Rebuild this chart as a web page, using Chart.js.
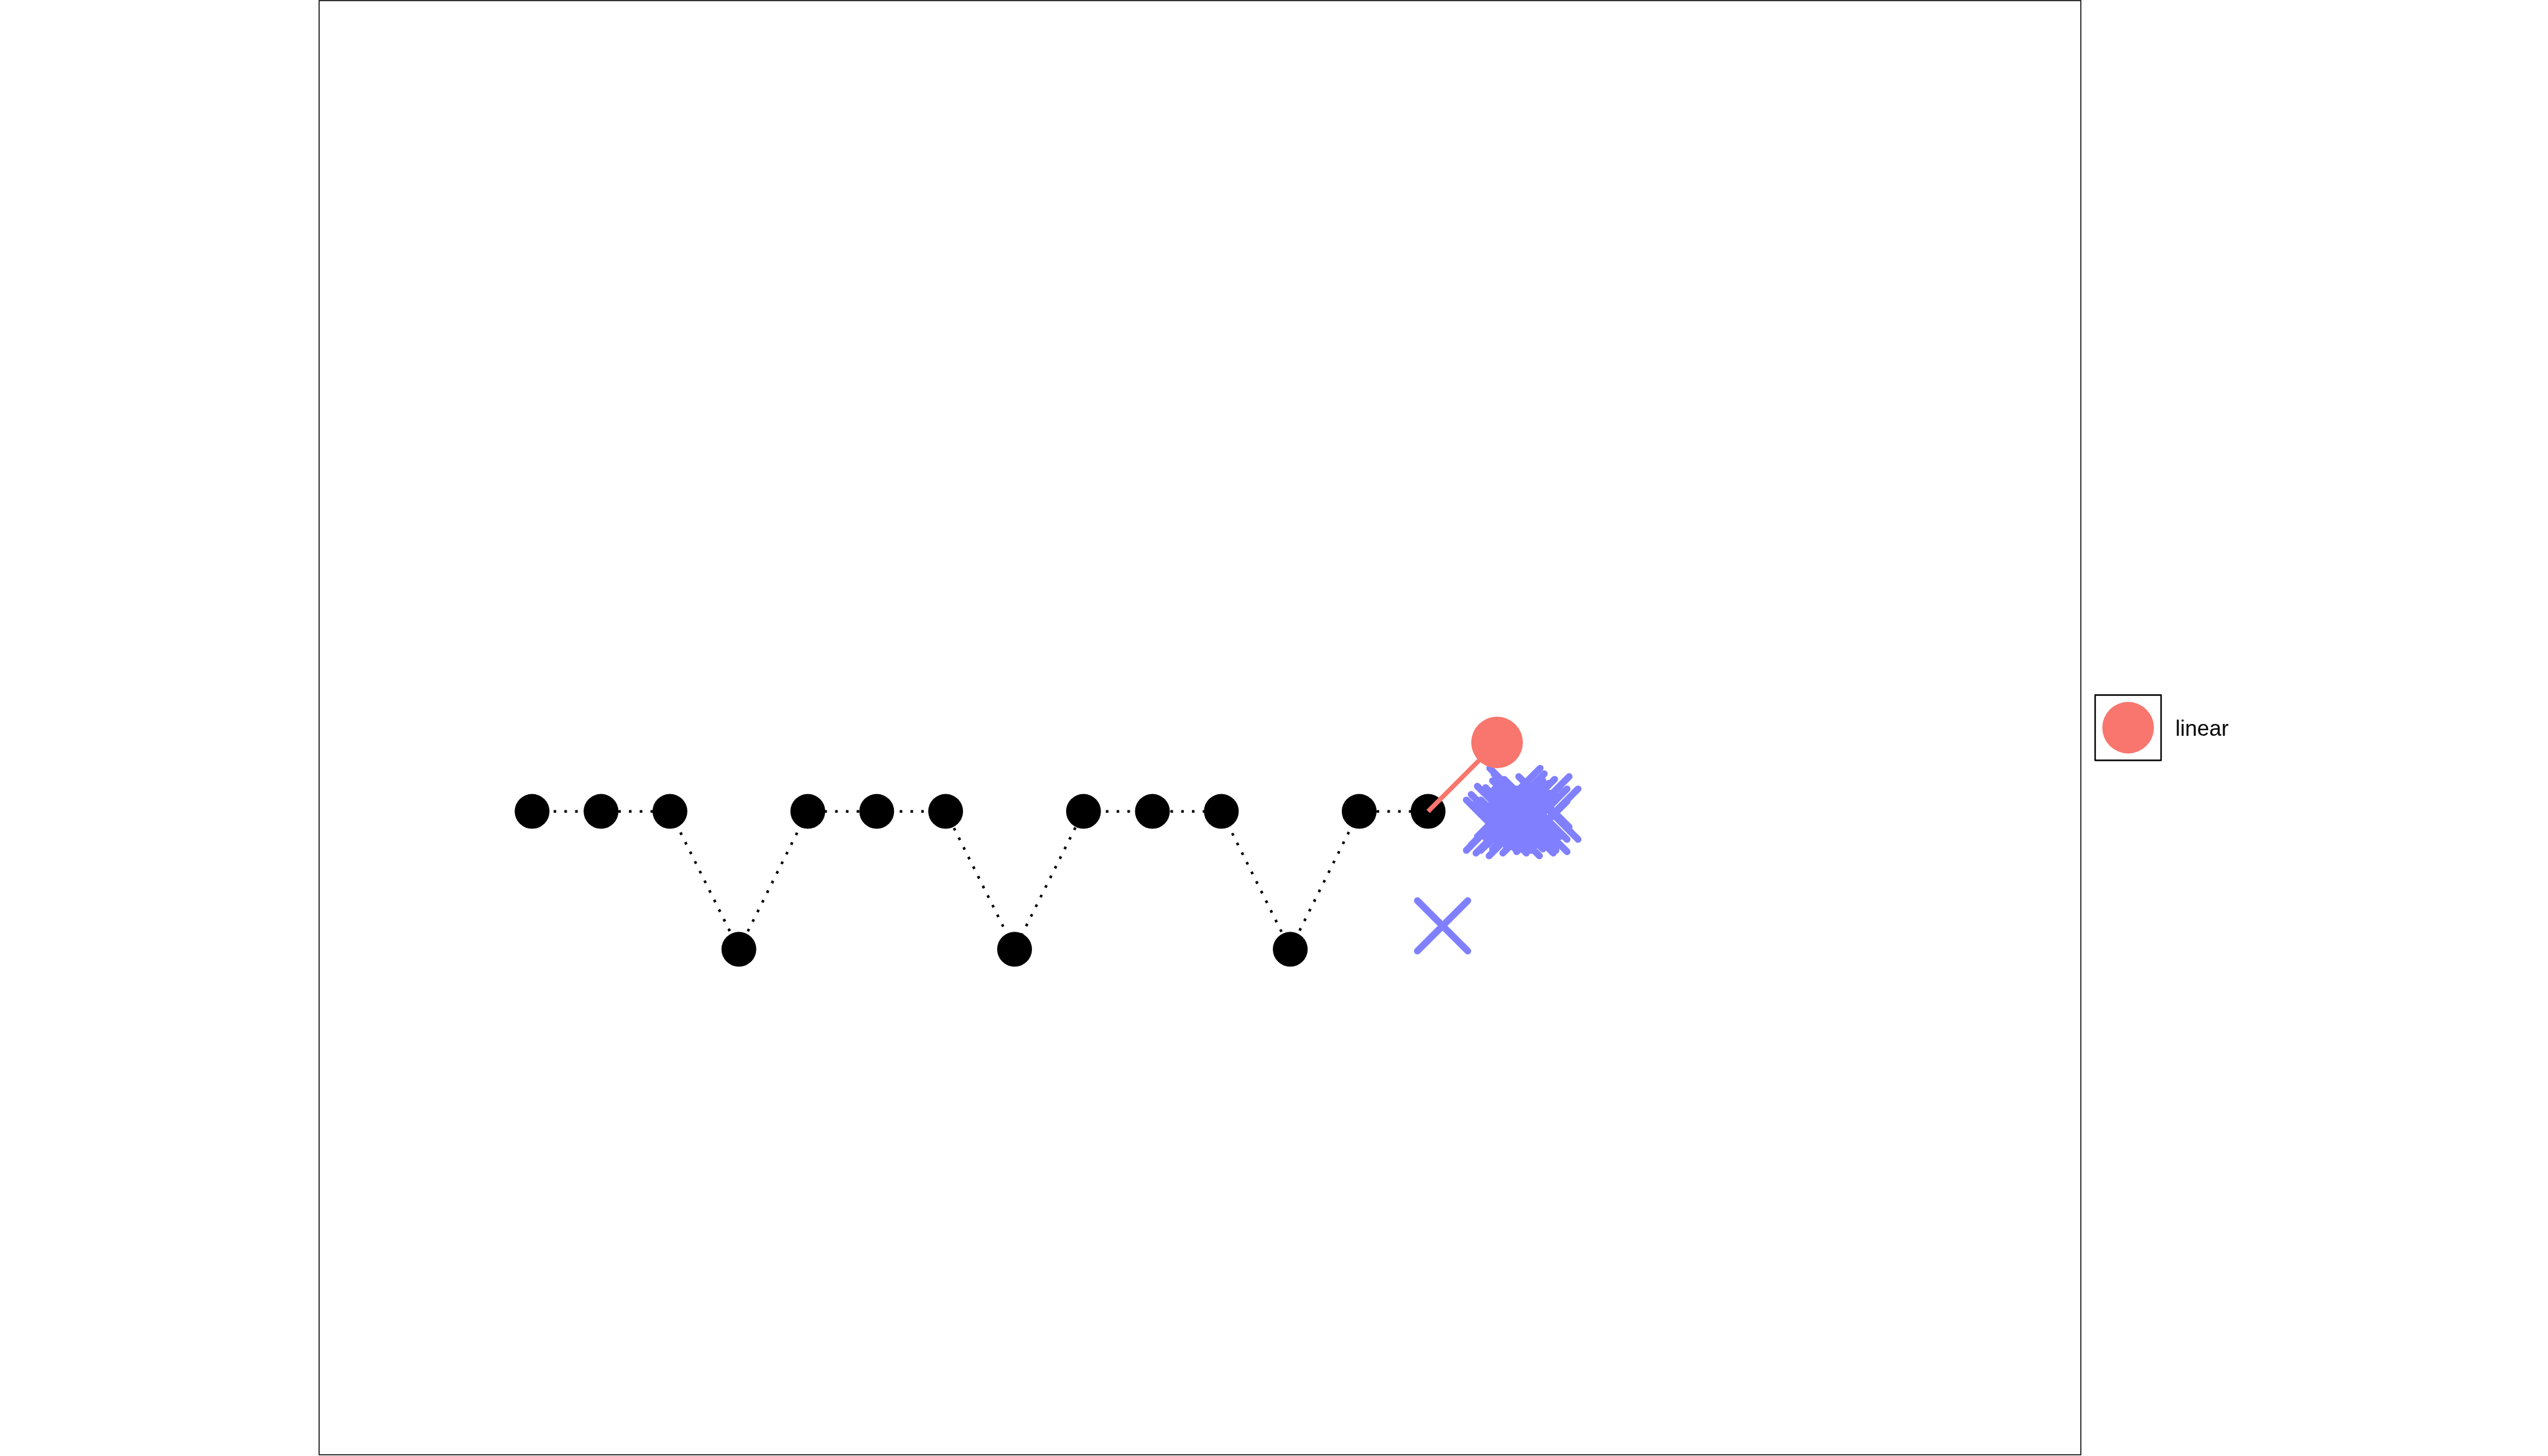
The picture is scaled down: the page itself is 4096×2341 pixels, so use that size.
<!DOCTYPE html>
<html>
<head>
<meta charset="utf-8">
<script src="https://cdn.jsdelivr.net/npm/chart.js@4.4.1/dist/chart.umd.min.js"></script>
<style>
html,body{margin:0;padding:0;background:#ffffff;overflow:hidden}
#wrap{width:4096px;height:2341px;position:relative}
</style>
</head>
<body>
<div id="wrap"><canvas id="c" width="4096" height="2341"></canvas></div>
<script>
// ---- data ----
const legendLabels = ['linear'];

const blackX = [1, 2, 3, 4, 5, 6, 7, 8, 9, 10, 11, 12, 13, 14];
const blackY = [1, 1, 1, 0, 1, 1, 1, 0, 1, 1, 1, 0, 1, 1];

const linearX = [14, 15];
const linearY = [1, 1.5];

const crossX = [14.21, 15.26, 15.32, 15.30, 15.47, 15.68, 15.65, 15.81, 15.49, 15.50, 15.30,
                15.25, 15.08, 15.20, 14.99, 14.92, 15.13, 15.06, 15.65, 15.33, 15.40,
                15.38, 15.22, 15.55, 15.45];
const crossY = [0.17, 1.13, 1.09, 1.04, 1.05, 1.07, 0.98, 0.98, 0.90, 0.93, 0.91,
                0.86, 1.00, 0.99, 0.94, 0.90, 0.90, 0.88, 0.89, 0.98, 0.95,
                1.02, 0.94, 1.00, 0.88];

const toPts = (xs, ys) => xs.map((x, i) => ({x: x, y: ys[i]}));

const RED = '#F8766D';
const BLUE = '#8080FF';

const framePlugin = {
  id: 'frame',
  beforeDatasetsDraw(chart) {
    const a = chart.chartArea, ctx = chart.ctx;
    ctx.save();
    ctx.strokeStyle = '#222222';
    ctx.lineWidth = 1.8;
    ctx.strokeRect(a.left, a.top, a.right - a.left, a.bottom - a.top);
    ctx.restore();
  },
  beforeDatasetDraw(chart, args) {
    if (args.index === 2) chart.ctx.lineCap = 'round';
    else chart.ctx.lineCap = 'butt';
  },
  afterDatasetDraw(chart) { chart.ctx.lineCap = 'butt'; }
};

const legendPlugin = {
  id: 'boxLegend',
  afterDraw(chart) {
    const a = chart.chartArea, ctx = chart.ctx;
    const ds = chart.data.datasets[1];
    const cy = (a.top + a.bottom) / 2;
    const bx = a.right + 23, bw = 106, bh = 105, by = cy - bh / 2;
    ctx.save();
    ctx.strokeStyle = '#000000';
    ctx.lineWidth = 2.4;
    ctx.lineJoin = 'round';
    ctx.strokeRect(bx, by, bw, bh);
    ctx.fillStyle = ds.pointBackgroundColor;
    ctx.beginPath();
    ctx.arc(bx + bw / 2, cy, 41.5, 0, Math.PI * 2);
    ctx.fill();
    ctx.fillStyle = '#000000';
    ctx.font = '35px "Liberation Sans", Arial, Helvetica, sans-serif';
    ctx.textBaseline = 'alphabetic';
    ctx.textAlign = 'left';
    ctx.fillText(ds.label, bx + bw + 23, cy + 13);
    ctx.restore();
  }
};

new Chart(document.getElementById('c'), {
  type: 'scatter',
  data: {
    datasets: [
      {
        label: 'points',
        data: toPts(blackX, blackY),
        showLine: true,
        borderColor: '#000000',
        borderWidth: 4.2,
        borderDash: [4.2, 13.1],
        pointRadius: 28,
        pointBackgroundColor: '#000000',
        pointBorderWidth: 0,
        order: 1
      },
      {
        label: legendLabels[0],
        data: toPts(linearX, linearY),
        showLine: true,
        borderColor: RED,
        borderWidth: 7.5,
        borderCapStyle: 'butt',
        pointRadius: [0, 41.5],
        pointBackgroundColor: RED,
        pointBorderWidth: 0,
        order: 0
      },
      {
        label: 'crosses',
        data: toPts(crossX, crossY),
        showLine: false,
        pointStyle: 'crossRot',
        pointRadius: 57.3,
        pointBorderColor: BLUE,
        pointBackgroundColor: BLUE,
        pointBorderWidth: 11,
        order: 2
      }
    ]
  },
  options: {
    responsive: false,
    animation: false,
    devicePixelRatio: 1,
    events: [],
    layout: {autoPadding: false, padding: {left: 513, right: 751, top: 1, bottom: 2}},
    scales: {
      x: {type: 'linear', display: false, min: -2.09, max: 23.47},
      y: {type: 'linear', display: false, min: -3.666, max: 6.88}
    },
    plugins: {
      legend: {display: false},
      tooltip: {enabled: false}
    }
  },
  plugins: [framePlugin, legendPlugin]
});
</script>
</body>
</html>
